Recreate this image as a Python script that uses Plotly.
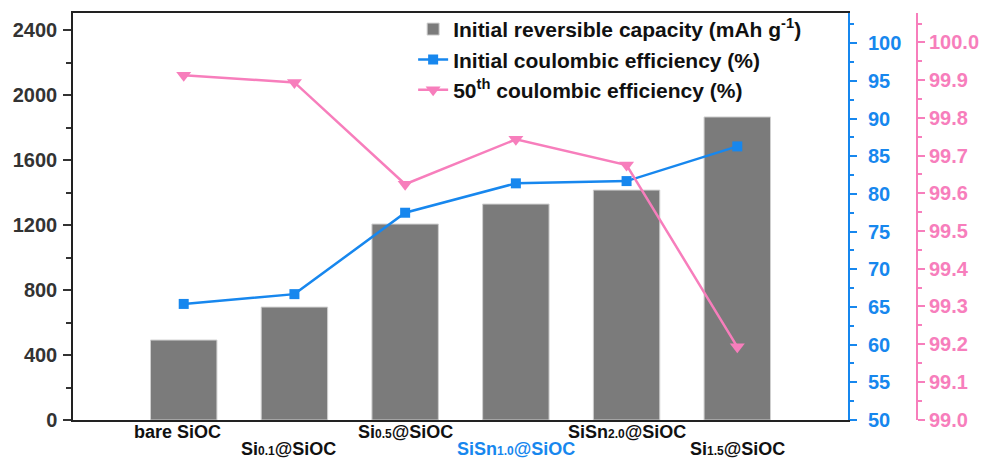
import plotly.graph_objects as go

categories = ["bare SiOC", "Si0.1@SiOC", "Si0.5@SiOC", "SiSn1.0@SiOC", "SiSn2.0@SiOC", "Si1.5@SiOC"]
SUB = '<span style="font-size:12px">{}</span>'
cat_labels = ["bare SiOC", "Si" + SUB.format("0.1") + "@SiOC", "Si" + SUB.format("0.5") + "@SiOC",
              "SiSn" + SUB.format("1.0") + "@SiOC", "SiSn" + SUB.format("2.0") + "@SiOC",
              "Si" + SUB.format("1.5") + "@SiOC"]
label_colors = ["#111111", "#111111", "#111111", "#1787EE", "#111111", "#111111"]
capacity = [492, 695, 1206, 1329, 1415, 1865]
ice = [65.4, 66.7, 77.5, 81.4, 81.7, 86.3]
ce50 = [99.913, 99.894, 99.624, 99.743, 99.675, 99.193]

BLUE = "#1787EE"
PINK = "#F77EBC"
FONT = "Arial, Liberation Sans, sans-serif"

fig = go.Figure()
fig.add_trace(go.Bar(
    x=categories, y=capacity, name="Initial reversible capacity (mAh g<sup>-1</sup>)",
    marker=dict(color="#7B7B7B", line=dict(color="#CFCFCF", width=1)), width=0.6,
    yaxis="y"))
fig.add_trace(go.Scatter(
    x=categories, y=ice, name="Initial coulombic efficiency (%)", mode="lines+markers",
    line=dict(color=BLUE, width=2.5), marker=dict(symbol="square", size=10, color=BLUE),
    yaxis="y2"))
fig.add_trace(go.Scatter(
    x=categories, y=ce50, name="50<sup>th</sup> coulombic efficiency (%)", mode="lines+markers",
    line=dict(color=PINK, width=2.5), marker=dict(symbol="triangle-down", size=13, color=PINK),
    yaxis="y3"))

for i, (lab, col) in enumerate(zip(cat_labels, label_colors)):
    fig.add_annotation(x=categories[i], y=0, xref="x", yref="paper", text=lab,
                       showarrow=False, yanchor="middle",
                       yshift=-12 if i % 2 == 0 else -29, xshift=-6 if i < 2 else 0,
                       font=dict(family=FONT, size=18, color=col, weight="bold"))

fig.update_layout(
    width=985, height=459,
    margin=dict(l=73, r=68, t=13, b=39, autoexpand=False),
    plot_bgcolor="white", paper_bgcolor="white",
    font=dict(family=FONT, size=18, color="#222222", weight="bold"),
    showlegend=True,
    legend=dict(x=0.403, y=1.01, xanchor="left", yanchor="top", bgcolor="rgba(0,0,0,0)",
                font=dict(family=FONT, size=21, color="#111111", weight="bold"), tracegroupgap=0),
    xaxis=dict(domain=[0, 775 / 844], range=[-1, 6], showticklabels=False, ticks="",
               showline=True, linecolor="#222222", linewidth=1.5, mirror=True, showgrid=False),
    yaxis=dict(range=[0, 2505], tickvals=[0, 400, 800, 1200, 1600, 2000, 2400],
               ticks="outside", ticklen=8, tickwidth=1.5, tickcolor="#333333",
               showline=True, linecolor="#222222", linewidth=1.5, showgrid=False, zeroline=False,
               tickfont=dict(family=FONT, size=20, color="#333333", weight="bold"),
               ticklabelstandoff=2, automargin=False,
               minor=dict(dtick=200, ticks="outside", ticklen=5, tickcolor="#333333", tickwidth=1.5)),
    yaxis2=dict(range=[50, 104], dtick=5, tick0=50, overlaying="y", side="right", anchor="x",
                ticks="outside", ticklen=7, tickwidth=2, tickcolor=BLUE,
                showline=True, linecolor=BLUE, linewidth=2, showgrid=False, zeroline=False,
                tickfont=dict(family=FONT, size=20, color=BLUE, weight="bold"),
                ticklabelstandoff=7, automargin=False,
                minor=dict(dtick=2.5, ticks="outside", ticklen=4, tickcolor=BLUE, tickwidth=2)),
    yaxis3=dict(range=[98.999, 100.078], dtick=0.1, tick0=99.0, tickformat=".1f",
                overlaying="y", side="right", anchor="free", position=1.0,
                ticks="outside", ticklen=7, tickwidth=2, tickcolor=PINK,
                showline=True, linecolor=PINK, linewidth=2, showgrid=False, zeroline=False,
                tickfont=dict(family=FONT, size=20, color=PINK, weight="bold"),
                ticklabelstandoff=0, automargin=False,
                minor=dict(dtick=0.05, ticks="outside", ticklen=4, tickcolor=PINK, tickwidth=2)),
)

fig.write_html("out.html")
